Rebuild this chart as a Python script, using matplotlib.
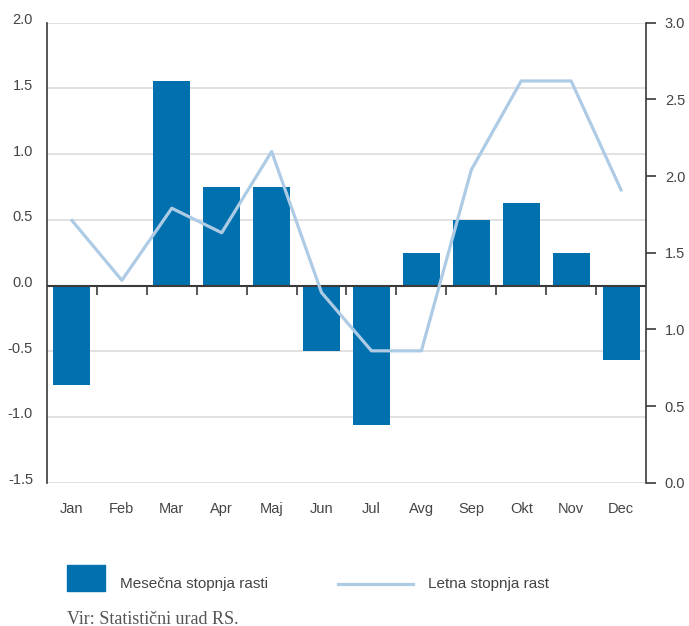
import matplotlib
matplotlib.use("Agg")
import matplotlib.pyplot as plt
import matplotlib.transforms as mtransforms
from matplotlib.patches import Rectangle
from matplotlib.lines import Line2D

# data
months = ["Jan", "Feb", "Mar", "Apr", "Maj", "Jun",
          "Jul", "Avg", "Sep", "Okt", "Nov", "Dec"]
monthly_rate = [-0.76, 0.0, 1.56, 0.75, 0.75, -0.50,
                -1.06, 0.25, 0.50, 0.63, 0.25, -0.57]
annual_rate = [1.71, 1.32, 1.79, 1.63, 2.16, 1.24,
               0.86, 0.86, 2.04, 2.62, 2.62, 1.91]
left_ticks = [-1.5, -1.0, -0.5, 0.0, 0.5, 1.0, 1.5, 2.0]
right_ticks = [0.0, 0.5, 1.0, 1.5, 2.0, 2.5, 3.0]

BAR_COLOR = "#0071ae"
LINE_COLOR = "#aecbe6"
GRID_COLOR = "#dcdcdc"
AXIS_COLOR = "#3a3a3a"
TEXT_COLOR = "#444444"

plt.rcParams["font.family"] = ["Liberation Sans", "DejaVu Sans"]

W, H = 689, 626
fig = plt.figure(figsize=(W / 100, H / 100), dpi=100)
ax = fig.add_axes([47 / W, (H - 482.7) / H, (646 - 47) / W, 460 / H])

x = list(range(len(months)))

# gridlines (left scale)
for t in left_ticks:
    ax.axhline(t, color=GRID_COLOR, lw=1.2, zorder=0)

ax.bar(x, monthly_rate, width=0.74, color=BAR_COLOR, zorder=2)
ax.axhline(0, color=AXIS_COLOR, lw=1.5, zorder=3)

ax.set_xlim(-0.5, len(months) - 0.5)
ax.set_ylim(left_ticks[0], left_ticks[-1])

# small ticks under the zero line between categories
zero_frac = (0 - left_ticks[0]) / (left_ticks[-1] - left_ticks[0])
bounds = [i + 0.5 for i in x[:-1]]
ax.vlines(bounds, zero_frac - 9 / 460, zero_frac, transform=ax.get_xaxis_transform(),
          color=AXIS_COLOR, lw=1.2, zorder=3)

ax.set_yticks(left_ticks)
ax.set_yticklabels([f"{t:.1f}" for t in left_ticks])
ax.tick_params(axis="y", length=0, pad=10, labelsize=10.5, labelcolor=TEXT_COLOR)
up = mtransforms.ScaledTranslation(0, 4 / 100, fig.dpi_scale_trans)
for lab in ax.get_yticklabels():
    lab.set_transform(lab.get_transform() + up)

ax.set_xticks(x)
ax.set_xticklabels(months)
ax.tick_params(axis="x", length=0, pad=14, labelsize=10.5, labelcolor=TEXT_COLOR)

for side in ["top", "bottom", "right"]:
    ax.spines[side].set_visible(False)
ax.spines["left"].set_color(AXIS_COLOR)
ax.spines["left"].set_linewidth(1.2)

# right axis: annual rate
ax2 = ax.twinx()
ax2.plot(x, annual_rate, color=LINE_COLOR, lw=2.3, zorder=4)
ax2.set_ylim(right_ticks[0], right_ticks[-1])
ax2.set_yticks(right_ticks)
ax2.set_yticklabels([f"{t:.1f}" for t in right_ticks])
ax2.tick_params(axis="y", direction="out", length=7.5, width=1.2, color=AXIS_COLOR,
                pad=6, labelsize=10.5, labelcolor=TEXT_COLOR)
for side in ["top", "bottom", "left"]:
    ax2.spines[side].set_visible(False)
ax2.spines["right"].set_color(AXIS_COLOR)
ax2.spines["right"].set_linewidth(1.2)

# legend, drawn by hand below the plot
fig.patches.append(Rectangle((67 / W, (H - 591) / H), 38 / W, 26 / H,
                             transform=fig.transFigure, color=BAR_COLOR))
fig.text(120 / W, (H - 584) / H, "Mesečna stopnja rasti", fontsize=11,
         color=TEXT_COLOR, va="center")
fig.lines.append(Line2D([338 / W, 413 / W], [(H - 584) / H] * 2,
                        transform=fig.transFigure, color=LINE_COLOR, lw=2.3))
fig.text(428 / W, (H - 584) / H, "Letna stopnja rast", fontsize=11,
         color=TEXT_COLOR, va="center")

fig.text(67 / W, (H - 619) / H, "Vir: Statistični urad RS.", fontsize=13,
         family=["Liberation Serif", "DejaVu Serif"], color="#555555", va="center")

fig.savefig("out.png", dpi=100)
